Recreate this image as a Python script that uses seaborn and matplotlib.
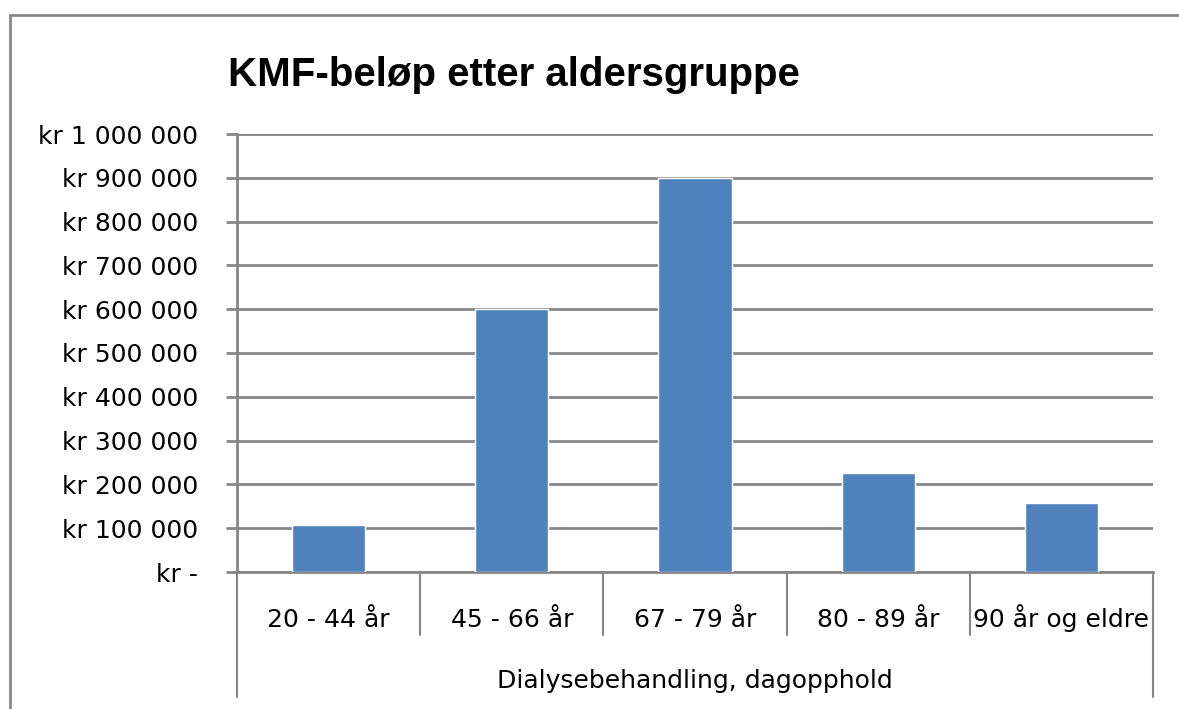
import matplotlib
matplotlib.use("Agg")
import matplotlib.pyplot as plt
import seaborn as sns
import pandas as pd

# Daten
grupper = ["20 - 44 år", "45 - 66 år", "67 - 79 år", "80 - 89 år", "90 år og eldre"]
belop = [108000, 600000, 900000, 225000, 158000]
y_ticks = [0, 100000, 200000, 300000, 400000, 500000, 600000, 700000, 800000, 900000, 1000000]
y_labels = ["kr -", "kr 100 000", "kr 200 000", "kr 300 000", "kr 400 000", "kr 500 000",
            "kr 600 000", "kr 700 000", "kr 800 000", "kr 900 000", "kr 1 000 000"]
gruppe_tittel = "Dialysebehandling, dagopphold"
tittel = "KMF-beløp etter aldersgruppe"

sns.set_style("white")
plt.rcParams["font.family"] = ["DejaVu Sans"]
plt.rcParams["text.color"] = "black"
plt.rcParams["xtick.color"] = "black"
plt.rcParams["ytick.color"] = "black"

W, H = 1179, 709
fig = plt.figure(figsize=(W / 100, H / 100), dpi=100)
ax = fig.add_axes([237 / W, (H - 572) / H, (1153 - 237) / W, (572 - 134) / H])

df = pd.DataFrame({"gruppe": grupper, "belop": belop})
sns.barplot(data=df, x="gruppe", y="belop", color="#4F81BD", width=0.4,
            saturation=1, ax=ax, zorder=3)

grey = "#868686"
ax.set_ylim(0, 1000000)
ax.set_xlim(-0.5, len(grupper) - 0.5)
ax.set_yticks(y_ticks)
ax.set_yticklabels(y_labels, fontsize=18)
ax.yaxis.grid(True, color=grey, linewidth=2, zorder=0)
ax.set_axisbelow(True)
ax.tick_params(axis="y", length=8, width=2, color=grey, pad=20, direction="out", left=True)
ax.tick_params(axis="x", length=0, pad=39.5, labelsize=18)
for lbl in ax.get_xticklabels():
    lbl.set_va("baseline")
for s in ["top", "right"]:
    ax.spines[s].set_visible(False)
for s in ["left", "bottom"]:
    ax.spines[s].set_color(grey)
    ax.spines[s].set_linewidth(2)
ax.set_ylabel("")
ax.set_xlabel("")

# Kategoriegrenzen unter der Achse
tr = ax.get_xaxis_transform()
for i in range(len(grupper) + 1):
    x = i - 0.5
    bunn = -0.285 if i in (0, len(grupper)) else -0.144
    ax.plot([x, x], [0, bunn], color=grey, linewidth=1.5, transform=tr, clip_on=False)

fig.text(695 / W, 1 - 688 / H, gruppe_tittel, fontsize=18, ha="center", va="baseline")
fig.text(228 / W, 1 - 86 / H, tittel, fontsize=29, fontweight="bold", ha="left", va="baseline",
         family="Liberation Sans")

# Rahmen des Diagrammbereichs
fig.add_artist(plt.Rectangle((10 / W, -0.1), 2, 1.1 - 15 / H, transform=fig.transFigure,
                             fill=False, edgecolor="#898989", linewidth=2))

fig.savefig("out.png", dpi=100)
